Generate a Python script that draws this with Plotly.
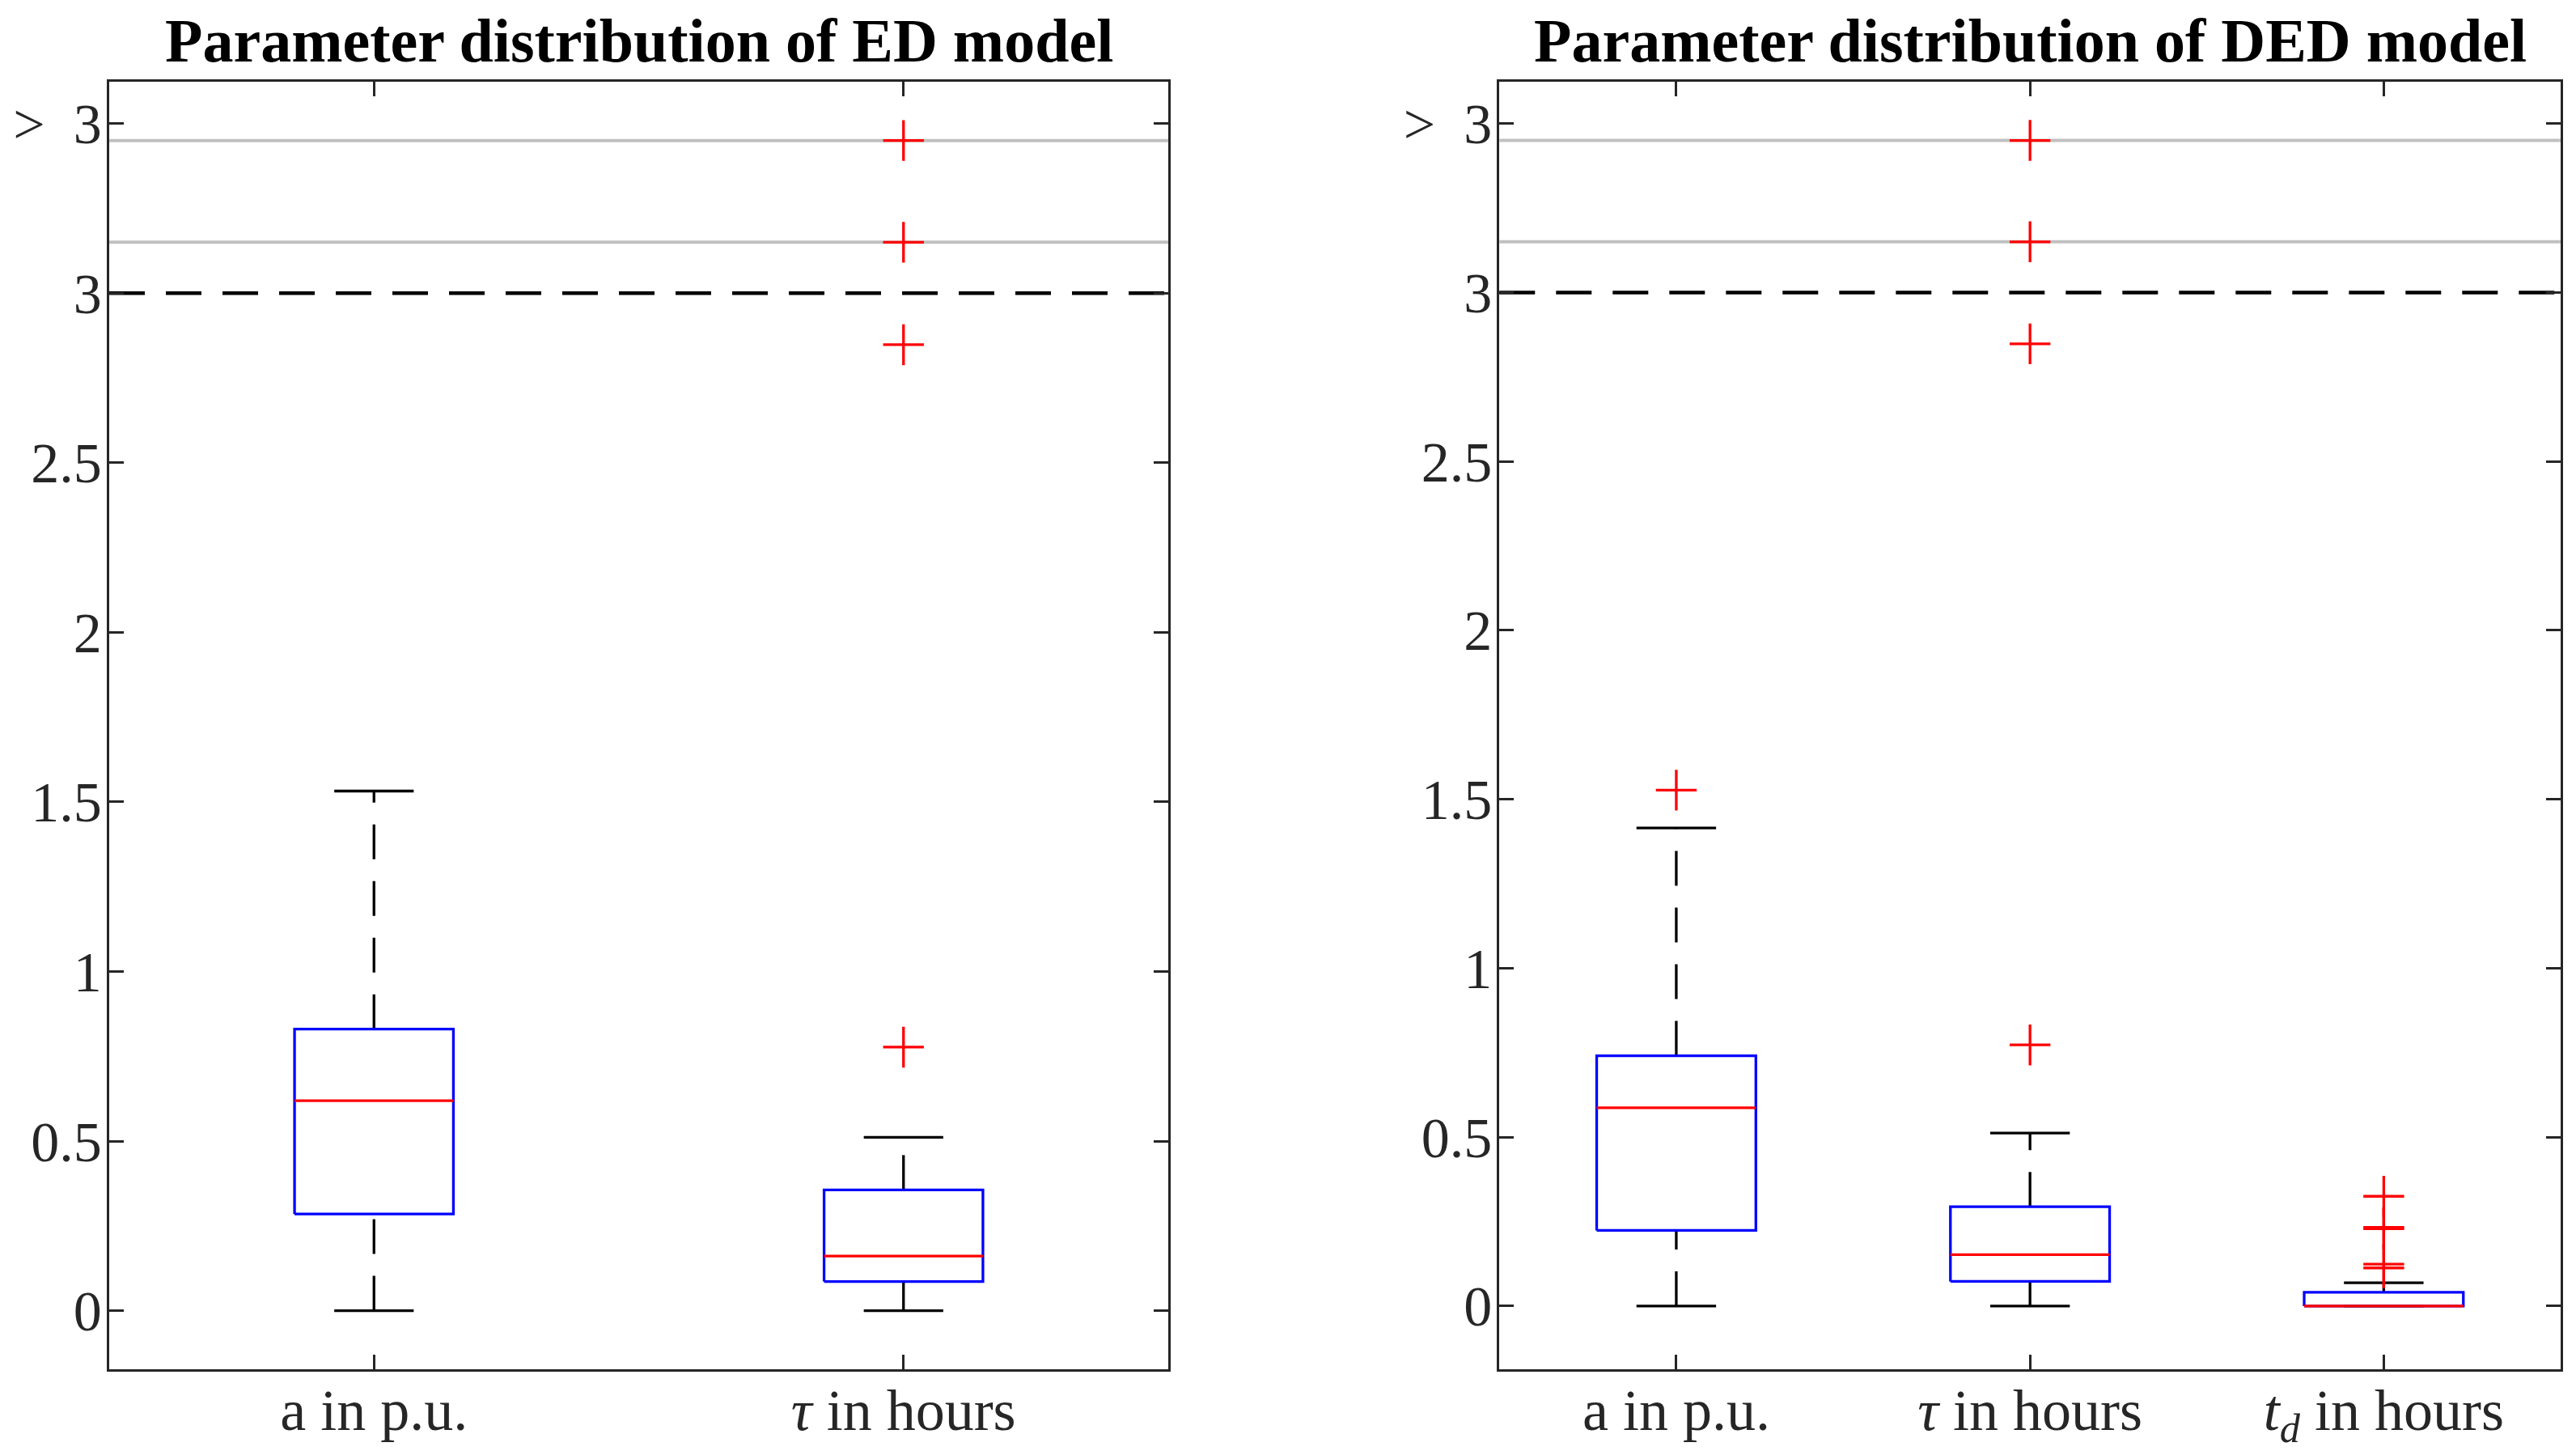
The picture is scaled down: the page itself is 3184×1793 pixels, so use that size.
import plotly.graph_objects as go

# page is 3184x1793; the browser body adds an 8px margin, so the figure is placed
# 8px right and 8px down; it is sized so that it ends at the page's right/bottom edge
PAGE_W, PAGE_H = 3184, 1793
OFF = 8
FW, FH = PAGE_W - 2 * OFF, PAGE_H - OFF

# ---------------- data ----------------
# ED model (left panel)
ed_categories = ["a in p.u.", "<i>τ</i> in hours"]
ed_q1 = [0.285, 0.086]
ed_median = [0.619, 0.161]
ed_q3 = [0.830, 0.356]
ed_lower = [0.0, 0.0]
ed_upper = [1.532, 0.511]
ed_outliers = [[], [0.777, 2.848, 3.150, 3.450]]

# DED model (right panel)
ded_categories = ["a in p.u.", "<i>τ</i> in hours", "<i>t</i><sub><i>d</i></sub> in hours"]
ded_q1 = [0.224, 0.073, 0.0]
ded_median = [0.587, 0.152, 0.0]
ded_q3 = [0.741, 0.294, 0.041]
ded_lower = [0.0, 0.0, 0.0]
ded_upper = [1.415, 0.512, 0.069]
ded_outliers = [[1.527], [0.773, 2.848, 3.150, 3.450], [0.113, 0.124, 0.229, 0.233, 0.325]]

y_tick_vals = [0, 0.5, 1, 1.5, 2, 2.5, 3, 3.5]
y_tick_text = ["0", "0.5", "1", "1.5", "2", "2.5", "3", "&gt;&nbsp; 3"]
threshold = 3.0
break_lines = [3.15, 3.45]

titles = ["Parameter distribution of ED model", "Parameter distribution of DED model"]

# ---------------- style ----------------
FONT = "Liberation Serif"
AX = "#262626"
LW = 3.3
BLUE = "#0000FF"
RED = "#FF0000"

fig = go.Figure()


def add_panel(q1, med, q3, lo, up, outl, box_w, xa, ya):
    n = len(q1)
    pos = list(range(1, n + 1))
    # whiskers (dashed, drawn in increasing y)
    wx, wy = [], []
    for c, a, b, l, u in zip(pos, q1, q3, lo, up):
        if l < a:
            wx += [c, c, None]
            wy += [l, a, None]
        if u > b:
            wx += [c, c, None]
            wy += [b, u, None]
    fig.add_trace(go.Scatter(x=wx, y=wy, mode="lines", xaxis=xa, yaxis=ya,
                             line=dict(color="black", width=LW, dash="43px,27px"),
                             hoverinfo="skip"))
    # caps
    cx, cy = [], []
    for c, l, u in zip(pos, lo, up):
        for v in (l, u):
            cx += [c - box_w / 4, c + box_w / 4, None]
            cy += [v, v, None]
    fig.add_trace(go.Scatter(x=cx, y=cy, mode="lines", xaxis=xa, yaxis=ya,
                             line=dict(color="black", width=LW), hoverinfo="skip"))
    # boxes
    bx, by = [], []
    for c, a, b in zip(pos, q1, q3):
        bx += [c - box_w / 2, c + box_w / 2, c + box_w / 2, c - box_w / 2, c - box_w / 2, None]
        by += [a, a, b, b, a, None]
    fig.add_trace(go.Scatter(x=bx, y=by, mode="lines", xaxis=xa, yaxis=ya,
                             line=dict(color=BLUE, width=LW), hoverinfo="skip"))
    # medians
    mx, my = [], []
    for c, m in zip(pos, med):
        mx += [c - box_w / 2, c + box_w / 2, None]
        my += [m, m, None]
    fig.add_trace(go.Scatter(x=mx, y=my, mode="lines", xaxis=xa, yaxis=ya,
                             line=dict(color=RED, width=LW), hoverinfo="skip"))
    # outliers
    ox, oy = [], []
    for c, vals in zip(pos, outl):
        for v in vals:
            ox.append(c)
            oy.append(v)
    fig.add_trace(go.Scatter(x=ox, y=oy, mode="markers", xaxis=xa, yaxis=ya,
                             marker=dict(symbol="cross-thin", size=36, color=RED,
                                         line=dict(color=RED, width=LW)),
                             hoverinfo="skip"))


add_panel(ed_q1, ed_median, ed_q3, ed_lower, ed_upper, ed_outliers, 0.30, "x", "y")
add_panel(ded_q1, ded_median, ded_q3, ded_lower, ded_upper, ded_outliers, 0.45, "x2", "y2")

# reference lines
shapes = []
for xr, yr in (("x domain", "y"), ("x2 domain", "y2")):
    for v in break_lines:
        shapes.append(dict(type="line", xref=xr, yref=yr, x0=0, x1=1, y0=v, y1=v,
                           layer="below", line=dict(color="#C0C0C0", width=4)))
    shapes.append(dict(type="line", xref=xr, yref=yr, x0=0, x1=1, y0=threshold, y1=threshold,
                       layer="below", line=dict(color="black", width=4.5, dash="44px,26px")))

axis_common = dict(showline=True, linecolor=AX, linewidth=LW, mirror="ticks",
                   ticks="inside", ticklen=18, tickwidth=LW, tickcolor=AX,
                   showgrid=False, zeroline=False, automargin=False)


def px_x(p):
    return (p - OFF) / FW


def px_y(p):
    return 1 - (p - OFF) / FH


xd1 = [px_x(135), px_x(1444)]
xd2 = [px_x(1853.3), px_x(3165)]
yd = [px_y(1692.3), px_y(100.7)]

xfont = dict(family=FONT, size=72, color=AX)
yfont = dict(family=FONT, size=70, color=AX)

fig.update_layout(
    width=FW, height=FH,
    margin=dict(l=0, r=0, t=0, b=0, autoexpand=False),
    paper_bgcolor="white", plot_bgcolor="white",
    showlegend=False,
    xaxis=dict(domain=xd1, range=[0.5, len(ed_categories) + 0.5],
               tickvals=list(range(1, len(ed_categories) + 1)), ticktext=ed_categories,
               anchor="y", tickfont=xfont, ticklabelstandoff=-15, **axis_common),
    yaxis=dict(domain=yd, range=[-0.1735, 3.624], tickvals=y_tick_vals, ticktext=y_tick_text,
               anchor="x", tickfont=yfont, ticklabelstandoff=-8, **axis_common),
    xaxis2=dict(domain=xd2, range=[0.5, len(ded_categories) + 0.5],
                tickvals=list(range(1, len(ded_categories) + 1)), ticktext=ded_categories,
                anchor="y2", tickfont=xfont, ticklabelstandoff=-15, **axis_common),
    yaxis2=dict(domain=yd, range=[-0.1877, 3.6245], tickvals=y_tick_vals, ticktext=y_tick_text,
                anchor="x2", tickfont=yfont, ticklabelstandoff=-8, **axis_common),
    shapes=shapes,
)

for t, d in zip(titles, (xd1, xd2)):
    fig.add_annotation(text="<b>" + t + "</b>", xref="paper", yref="paper",
                       x=(d[0] + d[1]) / 2, y=px_y(50), xanchor="center", yanchor="middle",
                       showarrow=False, font=dict(family=FONT, size=76, color="black"))

fig.write_html("out.html")
